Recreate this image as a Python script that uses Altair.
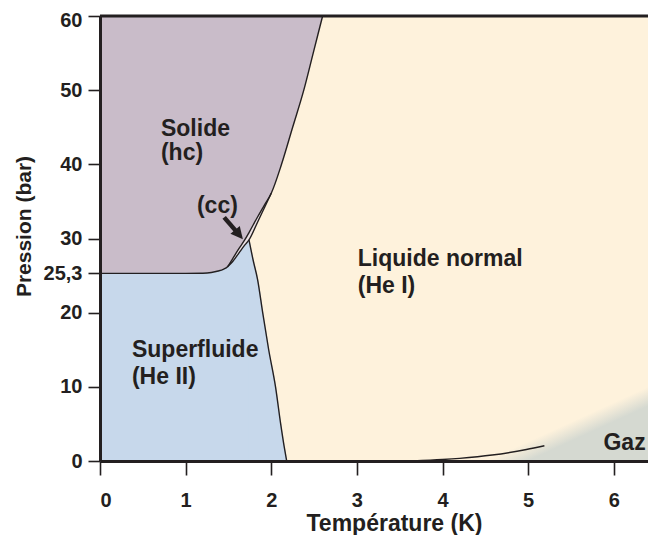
import altair as alt
import pandas as pd

# ---------------- data ----------------
x_ticks = [0, 1, 2, 3, 4, 5, 6]
y_ticks = [0, 10, 20, 25.3, 30, 40, 50, 60]

# melting curve (boundary of the hc solid)
melt_T = [0.0, 0.6, 1.0, 1.2, 1.3, 1.38, 1.44, 1.49, 1.55, 1.62, 1.69, 1.74,
          1.84, 1.92, 2.0, 2.12, 2.25, 2.38, 2.49, 2.6]
melt_P = [25.3, 25.3, 25.3, 25.32, 25.42, 25.62, 25.85, 26.2, 27.3, 28.6, 29.8, 30.8,
          32.9, 34.5, 36.1, 40.0, 45.0, 50.0, 55.0, 60.0]

# lower edge of the thin cc (bcc) sliver
bcc_T = [1.49, 1.55, 1.62, 1.69, 1.74, 1.84, 1.92, 2.0]
bcc_P = [26.2, 26.9, 28.0, 29.1, 29.8, 32.2, 34.15, 36.1]
bcc_hiP = [26.2, 27.3, 28.6, 29.8, 30.8, 32.9, 34.5, 36.1]

# lambda line
lam_T = [1.74, 1.79, 1.84, 1.90, 1.97, 2.05, 2.11, 2.15, 2.18]
lam_P = [29.8, 27.0, 24.5, 20.0, 15.0, 10.0, 5.0, 2.0, 0.0]

# liquid-vapour curve
vap_T = [3.65, 4.0, 4.2, 4.58, 4.98, 5.19]
vap_P = [0.0, 0.2, 0.36, 0.8, 1.55, 2.05]

# gas region (soft edge)
gas_T = [4.5, 6.4]
gas_P = [0.0, 10.0]

# region labels
lab_text = ["Solide", "(hc)", "(cc)", "Superfluide", "(He II)",
            "Liquide normal", "(He I)", "Gaz"]
lab_T = [0.712, 0.712, 1.132, 0.373, 0.373, 3.01, 3.01, 5.88]
lab_P = [43.82, 40.6, 33.44, 14.02, 10.38, 26.29, 22.65, 1.48]

# arrow pointing at the cc sliver
arrow_T = [1.45, 1.612]
arrow_P = [32.85, 30.69]

# ---------------- styling ----------------
INK = "#231f20"
C_SOLID = "#c9bcc9"
C_SUPER = "#c7d8eb"
C_LIQ = "#fef2dc"
C_GAS = "#d5d9d1"
C_BCC = "#ebe1e4"
FONT = "Liberation Sans"

x_scale = alt.Scale(domain=[0, 6.4], nice=False, zero=False)
y_scale = alt.Scale(domain=[0, 60], nice=False, zero=False)

x_axis = alt.Axis(values=x_ticks, title="Température (K)", format="d", zindex=1,
                  tickSize=14, labelPadding=15, titleX=294, titleY=69,
                  titleBaseline="alphabetic", titleAlign="center", titleFontSize=23)
y_axis = alt.Axis(values=y_ticks, title="Pression (bar)", zindex=1,
                  labelExpr="datum.value == 25.3 ? '25,3' : datum.label",
                  labelOffset={"condition": {"test": "datum.value == 60", "value": 4}, "value": 0},
                  tickSize=12, labelPadding=6, titleX=-70, titleY=210,
                  titleBaseline="alphabetic", titleAlign="center", titleFontSize=21)

X = alt.X("T:Q", scale=x_scale, axis=x_axis)
Y = alt.Y("P:Q", scale=y_scale, axis=y_axis)

# ---------------- tables ----------------
solid_df = pd.DataFrame({"T": melt_T, "P": melt_P})
sliver_df = pd.DataFrame({"T": bcc_T, "P": bcc_P, "P2": bcc_hiP})

sup_T = melt_T[:8] + bcc_T[1:5] + lam_T
sup_P = melt_P[:8] + bcc_P[1:5] + lam_P
sup_seg = ["a"] * 12 + ["b"] * len(lam_T)
super_df = pd.DataFrame({"T": sup_T, "P": sup_P, "seg": sup_seg})

gas_df = pd.DataFrame({"T": gas_T, "P": gas_P})

lines_df = pd.concat([
    pd.DataFrame({"T": melt_T, "P": melt_P, "curve": "melt"}),
    pd.DataFrame({"T": bcc_T, "P": bcc_P, "curve": "bcc"}),
    pd.DataFrame({"T": lam_T, "P": lam_P, "curve": "lambda"}),
    pd.DataFrame({"T": vap_T, "P": vap_P, "curve": "vapour"}),
], ignore_index=True)

lab_df = pd.DataFrame({"T": lab_T, "P": lab_P, "text": lab_text})
arrow_df = pd.DataFrame({"T": arrow_T, "P": arrow_P})
head_df = pd.DataFrame({"T": arrow_T[1:], "P": arrow_P[1:]})
top_df = pd.DataFrame({"P": [60]})

# ---------------- layers ----------------
solid = alt.Chart(solid_df).mark_area(color=C_SOLID, interpolate="monotone").encode(
    x=X, y=Y, y2=alt.datum(60))

sliver = alt.Chart(sliver_df).mark_area(color=C_BCC, interpolate="monotone").encode(
    x=X, y=Y, y2="P2:Q")

superf = alt.Chart(super_df).mark_area(
    color=C_SUPER, stroke=C_SUPER, strokeWidth=1, interpolate="monotone").encode(
    x=X, y=Y, y2=alt.datum(0), detail="seg:N")

gas = alt.Chart(gas_df).mark_area(
    color={"gradient": "linear", "x1": 0, "y1": 0, "x2": 1, "y2": 1,
           "stops": [{"offset": 0, "color": C_LIQ},
                     {"offset": 0.5, "color": C_LIQ},
                     {"offset": 0.63, "color": C_GAS},
                     {"offset": 1, "color": C_GAS}]},
    clip=True).encode(x=X, y=Y, y2=alt.datum(0))

lines = alt.Chart(lines_df).mark_line(color=INK, strokeWidth=1.4, interpolate="monotone").encode(
    x=X, y=Y, detail="curve:N")

top = alt.Chart(top_df).mark_rule(color=INK, strokeWidth=3).encode(y=Y)

shaft = alt.Chart(arrow_df).mark_line(color=INK, strokeWidth=4.5, strokeCap="butt").encode(x=X, y=Y)
head = alt.Chart(head_df).mark_point(
    shape="M0,-1L0.8,0.6L-0.8,0.6Z", filled=True, color=INK, opacity=1,
    size=230, angle=140, strokeWidth=0).encode(x=X, y=Y)

labels = alt.Chart(lab_df).mark_text(
    align="left", baseline="alphabetic", font=FONT, fontWeight="bold",
    fontSize=23, color=INK).encode(x=X, y=Y, text="text:N")

chart = alt.layer(solid, superf, sliver, gas, lines, top, shaft, head, labels).properties(
    width=548, height=445,
    padding={"left": 92, "top": 8, "right": 0, "bottom": 74},
    autosize=alt.AutoSizeParams(type="none"),
).configure_view(fill=C_LIQ, strokeWidth=0).configure_axis(
    grid=False,
    domainColor=INK, domainWidth=3, tickColor=INK, tickWidth=1.6,
    labelFont=FONT, labelFontWeight="bold", labelFontSize=20, labelColor=INK,
    titleFont=FONT, titleFontWeight="bold", titleColor=INK,
)

chart.save("out.html", embed_options={"renderer": "svg", "actions": False})
